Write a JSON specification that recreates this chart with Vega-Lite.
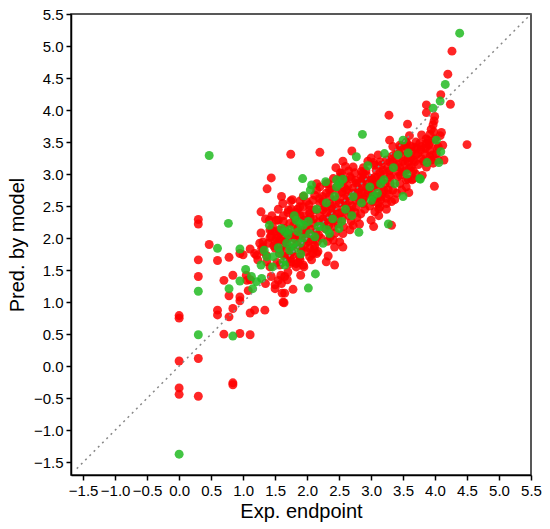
{
"$schema": "https://vega.github.io/schema/vega-lite/v6.json",
"width": 460, "height": 461,
"autosize": {"type": "none"},
"padding": {"left": 71, "top": 14, "right": 19, "bottom": 54},
"config": {"view": {"stroke": "#222222", "strokeWidth": 1.5}, "font": "Liberation Sans", "axis": {"labelOverlap": false, "labelFlush": false, "labelBound": false}},
"datasets": {
"train": [
[0,0.79],[0,0.75],[0,0.08],[0,-0.34],[0,-0.44],
[0.30,1.40],[0.30,0.12],[0.30,-0.47],[0.30,2.29],[0.30,2.22],[0.30,1.66],
[0.47,1.90],[0.60,0.875],[0.60,0.80],[0.60,1.65],[0.70,0.50],[0.70,1.34],
[0.78,1.10],[0.78,0.77],[0.78,1.70],[0.84,0.90],[0.84,1.42],[0.84,-0.26],[0.84,-0.29],
[0.95,0.51],[0.95,1.08],[0.95,1.02],[0.95,1.76],[1.00,1.74],
[1.11,0.49],[1.11,0.83],[1.11,1.83],[1.11,1.35],[1.18,0.875],[1.34,0.875],
[1.05,1.42],[1.06,1.34],[1.08,1.18],
[1.35,1.29],[1.44,1.40],[1.50,1.27],[1.60,1.29],[1.65,1.40],[1.70,1.47],[1.65,1.14],[1.625,1.00],
[1.21,1.73],[1.31,1.79],[1.57,1.76],[1.68,1.71],
[1.28,2.41],[1.375,2.77],[1.44,2.94],[1.62,2.54],[1.745,2.58],[1.71,2.44],
[1.41,2.28],[1.52,2.28],[1.63,2.26],[1.28,2.08],[1.42,2.125],[1.495,2.10],[1.57,2.125],[1.65,2.15],
[1.26,1.92],[1.31,1.86],[1.365,1.73],[1.42,2.01],[1.45,2.12],
[1.78,1.20],[1.61,1.14],[1.64,0.99],[1.69,1.35],[1.59,1.42],[1.55,1.34],[1.50,1.21],
[1.90,1.42],[1.95,1.55],[1.83,1.55],[2.43,1.58],
[2.30,1.63],[2.33,1.72],[2.15,1.76],[2.56,1.86],[2.43,1.86],[2.51,1.94],[2.41,1.97],
[1.94,1.58],[1.83,1.60],[1.75,1.63],[2.07,1.66],[2.09,1.76],[1.99,1.79],[1.885,1.71],
[1.44,2.03],[1.57,1.97],[1.70,1.99],[1.81,1.99],[1.99,2.10],[2.09,1.97],[2.04,1.84],[1.91,1.81],
[1.78,1.74],[1.65,1.71],[1.57,1.58],[1.73,1.60],[1.89,1.66],[2.04,1.71],[2.17,1.79],[1.39,1.92],
[1.31,1.94],[1.29,1.84],[1.18,1.76],[1.23,1.66],[1.37,1.63],[1.42,1.55],[1.50,1.84],
[1.89,2.58],[2.09,2.59],[2.12,2.67],[2.15,2.85],[1.755,2.45],[1.81,2.31],[1.89,2.36],[2.04,2.39],
[2.12,2.44],[1.99,2.20],[1.55,2.28],[1.73,2.23],[1.94,2.49],
[2.745,3.02],[2.875,3.02],[3.16,3.14],[3.29,3.19],[3.50,3.04],[3.60,3.09],[3.55,2.91],[2.54,3.01],
[2.41,2.93],[2.30,2.85],[2.46,2.80],[2.615,2.75],[2.77,2.855],[2.875,2.93],[3.005,2.91],[3.08,2.80],
[3.27,2.75],[3.42,2.96],[2.82,2.75],[2.69,2.93],[3.45,3.45],[3.55,3.43],[3.63,3.35],[3.71,3.40],
[3.76,3.48],[3.92,3.27],[4.02,3.32],[3.865,3.48],[3.79,3.24],[3.68,3.19],[3.865,3.11],[3.97,3.17],[4.05,3.22],
[2.51,2.88],[2.59,2.91],[2.67,2.96],[2.85,2.96],[2.93,2.98],[3.01,2.93],[3.06,2.83],[2.93,2.80],
[2.72,2.78],[2.59,2.78],[2.38,2.75],[2.30,2.70],[1.94,2.65],[1.77,2.60],[2.25,2.57],[2.35,2.54],
[2.56,2.54],[2.77,2.59],[2.88,2.62],[3.11,2.65],[3.24,2.62],[3.37,2.60],[3.14,2.49],[2.77,2.49],
[2.20,2.80],[2.15,2.75],
[2.35,2.33],[2.51,2.39],[2.67,2.44],[2.88,2.54],[3.03,2.57],[2.25,2.44],[2.04,2.44],[1.885,2.49],
[2.09,2.23],[2.67,2.13],[2.56,2.07],[2.41,2.18],[2.30,2.28],[2.69,2.26],
[4.265,4.92],[4.20,4.56],[4.09,4.24],[4.24,4.09],[3.865,4.08],[3.865,3.96],[3.995,3.90],[3.985,3.83],
[3.97,3.77],[3.94,3.70],[3.28,3.92],[3.57,3.78],[4.10,3.65],[3.79,3.61],[3.92,3.62],[3.89,3.53],
[4.50,3.46],[3.29,3.53],[3.55,3.50],[3.63,3.43],[1.745,3.31],[2.20,3.34],[2.70,3.36],[3.79,3.43],
[3.84,3.32],[3.92,3.37],[4.05,3.43],[3.94,3.22],[4.14,3.22],[3.58,3.27],[3.66,3.22],[3.73,3.32],
[3.11,3.30],[3.32,3.27],[3.42,3.35],[3.47,3.43],[2.56,3.20],[2.60,3.12],[3.53,3.17],[3.63,3.11],
[3.64,2.91],[3.55,2.80],[3.59,2.71],[3.99,2.81],[3.66,2.93],
[3.34,3.43],[3.53,3.37],[3.58,3.32],[2.72,3.11],[2.85,3.04],[3.06,3.14],[3.14,3.19],[3.24,3.22],
[3.34,3.19],[3.40,3.24],[3.50,3.27],[3.58,3.19],[2.52,3.02],[3.42,3.04],[3.29,3.05],[3.19,3.06],
[3.08,3.06],[3.11,2.54],[3.16,2.65],[3.06,2.41],[3.32,2.20],[3.00,2.28],[3.04,2.18],[2.82,2.22],
[3.12,2.46],[3.24,2.54],[3.32,2.57],
[2.25,2.30],[2.40,2.45],[2.55,2.30],[2.60,2.55],[2.20,2.55],[2.45,2.60],[2.65,2.35],[2.75,2.40],
[2.35,2.65],[2.50,2.70],[2.62,2.65],[2.85,2.70],[2.95,2.70],[2.90,2.45],[2.28,2.15],[2.48,2.22],
[2.18,2.05],[2.32,1.95],[2.05,2.32],[1.95,2.35],[1.85,2.15],[1.98,1.92],[2.12,1.88],[1.75,1.85],
[1.62,1.90],[1.55,2.05],[1.50,1.95],[1.62,2.10],[1.80,2.05],[2.00,2.05],[2.20,2.35],[2.38,2.38],
[2.70,2.70],[2.80,2.85],[3.10,2.95],[3.20,3.00],[3.30,2.95],[3.45,3.10],[3.70,3.00],[3.85,3.40],
[3.70,3.50],[3.60,3.60],[3.90,3.45],[2.95,3.20],[2.88,3.10],[3.00,3.25],[2.65,3.05],[2.45,3.10],
[2.35,2.75],[3.20,2.75],[3.30,2.85],[3.45,2.85],[3.15,2.60],[3.40,2.70],[1.55,2.45],[1.45,2.35],
[1.35,2.30],[1.70,2.40],[1.85,2.45],[1.60,2.65],
[1.48,1.88],[1.52,2.00],[1.58,1.82],[1.46,2.18],[1.60,2.02],[1.53,1.62],
[1.66,1.95],[1.72,2.08],[1.76,1.78],[1.68,1.83],[1.79,2.20],[1.74,1.68],[1.63,2.35],[1.78,2.35],
[1.84,1.90],[1.88,2.03],[1.92,2.12],[1.97,1.98],[1.83,2.40],[1.96,2.28],[1.86,1.62],[1.99,2.57],[1.91,1.86],
[2.02,1.95],[2.06,2.14],[2.10,2.30],[2.14,2.10],[2.18,2.25],[2.03,2.52],[2.16,1.95],[2.08,2.04],[2.19,2.62],[2.11,1.83],
[2.22,2.00],[2.26,2.22],[2.30,2.40],[2.34,2.20],[2.38,2.50],[2.24,2.65],[2.36,2.02],[2.28,2.48],[2.33,2.85],[2.39,2.28],
[2.42,2.35],[2.46,2.48],[2.50,2.55],[2.54,2.40],[2.58,2.62],[2.44,2.08],[2.52,2.95],[2.57,2.18],[2.48,2.30],[2.55,2.72],
[2.62,2.45],[2.66,2.58],[2.70,2.50],[2.74,2.65],[2.78,2.32],[2.64,2.82],[2.72,2.20],[2.76,2.90],[2.68,2.40],[2.79,2.72],
[2.82,2.60],[2.86,2.80],[2.90,2.65],[2.94,2.88],[2.98,2.50],[2.84,2.38],[2.92,3.05],[2.96,2.75],[2.88,2.92],
[3.02,2.70],[3.06,2.95],[3.10,2.85],[3.14,3.02],[3.18,2.72],[3.04,3.18],[3.12,2.35],[3.16,2.92],[3.08,2.62],
[3.22,2.85],[3.26,3.10],[3.30,2.98],[3.34,2.75],[3.38,3.12],[3.24,2.45],[3.36,3.30],[3.28,2.68],
[3.42,3.15],[3.46,2.98],[3.50,3.20],[3.54,3.05],[3.58,2.92],[3.44,3.32],[3.56,3.48],[3.48,2.75],
[3.62,3.25],[3.66,3.05],[3.70,3.30],[3.74,3.15],[3.78,3.38],[3.82,3.20],[3.86,3.55],[3.68,3.42],[3.80,2.98],
[3.92,3.48],[3.96,3.30],[4.00,3.55],[4.03,3.40],[4.08,3.60],[4.12,3.45],[3.98,3.66]
],
"test": [
[0,-1.375],[0.30,1.17],[0.30,0.49],[0.47,3.29],[0.77,2.23],[0.60,1.84],[0.95,1.83],[0.78,1.21],
[0.84,0.47],[0.95,1.33],[1.04,1.51],[1.13,1.40],[1.21,1.32],[1.29,1.37],[1.15,1.21],[1.28,1.58],
[1.46,1.55],[1.65,1.58],[1.37,1.71],[1.47,1.71],[1.41,2.20],[1.33,1.81],[1.65,2.10],[1.70,2.05],
[1.68,1.92],[1.73,1.81],[2.13,1.44],[2.02,1.22],
[1.60,2.15],[1.73,2.13],[1.89,2.23],[2.02,2.26],[2.17,2.18],[1.86,2.10],[1.94,2.00],[2.12,2.02],
[1.81,1.84],[1.89,1.92],[1.57,1.76],[1.625,1.63],[1.93,2.93],[2.07,2.83],[2.05,2.75],[1.95,2.66],
[2.29,2.88],[2.46,2.91],[2.51,2.85],[2.98,2.80],[3.03,2.65],[2.72,2.65],[3.50,2.65],
[2.56,2.92],[2.43,2.65],[3.005,2.59],
[2.25,1.92],[2.35,2.07],[2.22,2.18],[2.04,2.07],[1.94,2.20],[1.83,2.28],[1.78,1.92],
[4.385,5.20],[4.16,4.40],[4.08,4.14],[3.97,4.03],[2.865,3.62],[4.02,3.53],[3.50,3.53],[2.77,3.27],
[3.875,3.18],[3.21,3.32],[2.95,3.13],[3.56,3.00],[3.77,2.92],[4.09,3.35],[4.06,3.18],[3.58,3.33],
[3.42,3.30],[3.20,2.91],[3.37,2.85],[3.76,2.93],[3.27,2.22],[2.81,2.09],
[2.31,2.13],[2.54,2.26],[2.46,2.80],
[2.60,2.45],[2.40,2.30],[2.15,2.45],[1.80,2.35],[2.50,2.15],[3.10,2.70],[2.70,2.35],[1.55,1.85],
[1.90,1.75],[2.30,2.55],[2.85,2.55],[3.35,3.10],[3.15,2.85]
]
},
"encoding": {
"x": {"field": "exp", "type": "quantitative", "scale": {"domain": [-1.69, 5.5], "nice": false, "zero": false},
"axis": {"title": "Exp. endpoint", "values": [-1.5,-1.0,-0.5,0,0.5,1.0,1.5,2.0,2.5,3.0,3.5,4.0,4.5,5.0,5.5], "format": ".1f", "grid": false, "domainColor": "#000", "domainWidth": 1.5, "tickColor": "#000", "tickWidth": 1.5, "tickSize": 5, "labelPadding": 3, "labelFontSize": 15, "labelColor": "#000", "labelFont": "Liberation Sans", "titleFont": "Liberation Sans", "titleFontSize": 20, "titleFontWeight": "normal", "titleColor": "#000", "titlePadding": 3, "labelFlush": false, "labelOverlap": false}},
"y": {"field": "pred", "type": "quantitative", "scale": {"domain": [-1.7, 5.5], "nice": false, "zero": false},
"axis": {"title": "Pred. by model", "values": [-1.5,-1.0,-0.5,0,0.5,1.0,1.5,2.0,2.5,3.0,3.5,4.0,4.5,5.0,5.5], "format": ".1f", "grid": false, "domainColor": "#000", "domainWidth": 1.5, "tickColor": "#000", "tickWidth": 1.5, "tickSize": 5, "labelPadding": 3, "labelFontSize": 15, "labelColor": "#000", "labelFont": "Liberation Sans", "titleFont": "Liberation Sans", "titleFontSize": 20, "titleFontWeight": "normal", "titleColor": "#000", "titlePadding": 6, "labelFlush": false, "labelOverlap": false}}
},
"layer": [
{
"data": {"name": "train"},
"transform": [{"calculate": "datum[0]", "as": "exp"}, {"calculate": "datum[1]", "as": "pred"}, {"calculate": "'train'", "as": "set"}],
"mark": {"type": "circle", "size": 80, "opacity": 0.85},
"encoding": {
"color": {"field": "set", "type": "nominal", "scale": {"domain": ["train", "test"], "range": ["#ff0000", "#22bb22"]}, "legend": null}
}
},
{
"data": {"name": "test"},
"transform": [{"calculate": "datum[0]", "as": "exp"}, {"calculate": "datum[1]", "as": "pred"}, {"calculate": "'test'", "as": "set"}],
"mark": {"type": "circle", "size": 80, "opacity": 0.85},
"encoding": {
"color": {"field": "set", "type": "nominal"}
}
},
{
"data": {"values": [{"exp": -1.6, "pred": -1.6}, {"exp": 5.5, "pred": 5.5}]},
"mark": {"type": "line", "strokeDash": [2, 4], "color": "#888888", "strokeWidth": 1.5},
"encoding": {}
}
]
}
